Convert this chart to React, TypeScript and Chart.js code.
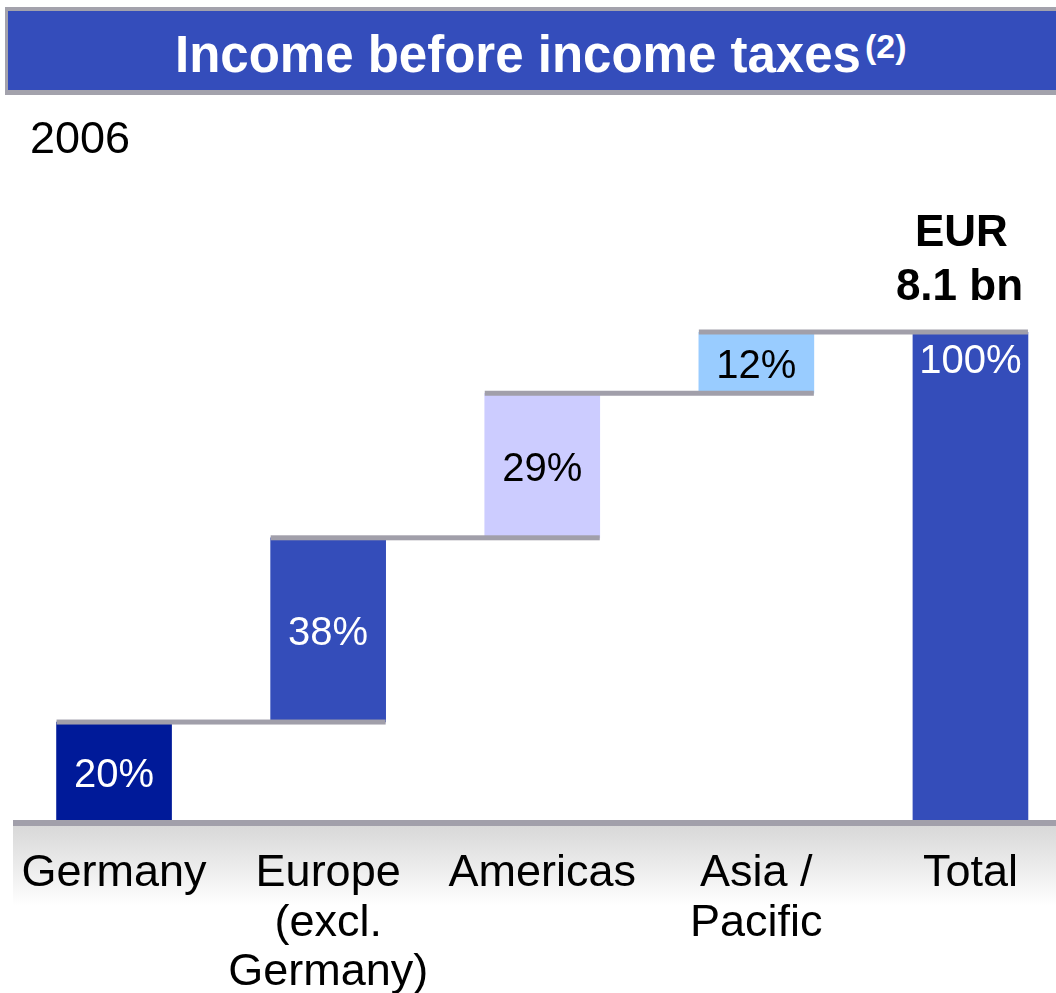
import React, { useEffect, useRef } from "react";
import { Chart, registerables } from "chart.js";

Chart.register(...registerables);

const categories: string[][] = [
  ["Germany"],
  ["Europe", "(excl.", "Germany)"],
  ["Americas"],
  ["Asia /", "Pacific"],
  ["Total"],
];
const barStart: number[] = [0, 20.4, 58, 87.5, 0];
const barEnd: number[] = [20.4, 58, 87.5, 100, 100];
const barLabels: string[] = ["20%", "38%", "29%", "12%", "100%"];
const barColors: string[] = ["#001A99", "#344DBA", "#CCCCFF", "#99CCFF", "#344DBA"];
const labelColors: string[] = ["#FFFFFF", "#FFFFFF", "#000000", "#000000", "#FFFFFF"];
const totalLabel: string[] = ["EUR", "8.1 bn"];

const FONT = "'Liberation Sans', Arial, sans-serif";
const GRAY = "#A19FAA";

const decorPlugin = {
  id: "decor",
  beforeDraw(chart: any) {
    const { ctx, chartArea } = chart;
    ctx.save();
    const top = chartArea.bottom + 4;
    const g = ctx.createLinearGradient(0, top, 0, top + 80);
    g.addColorStop(0, "#D8D8D8");
    g.addColorStop(1, "#FFFFFF");
    ctx.fillStyle = g;
    ctx.fillRect(13, top, chart.width, 80);
    ctx.restore();
  },
  afterDatasetsDraw(chart: any) {
    const { ctx, chartArea } = chart;
    const meta = chart.getDatasetMeta(0);
    const yScale = chart.scales.y;
    ctx.save();
    // baseline
    ctx.fillStyle = GRAY;
    ctx.fillRect(13, chartArea.bottom - 2, chart.width, 6);
    // connectors
    for (let i = 0; i < meta.data.length - 1; i++) {
      const a = meta.data[i];
      const b = meta.data[i + 1];
      const y = yScale.getPixelForValue(barEnd[i]);
      const x0 = a.x - a.width / 2;
      const x1 = b.x + b.width / 2;
      ctx.fillRect(x0, y - 2.5, x1 - x0, 5);
    }
    // labels
    ctx.font = `40px ${FONT}`;
    ctx.textAlign = "center";
    ctx.textBaseline = "middle";
    for (let i = 0; i < meta.data.length; i++) {
      const el = meta.data[i];
      ctx.fillStyle = labelColors[i];
      let y = (el.y + el.base) / 2 + 3;
      if (i === meta.data.length - 1) y = el.y + 29;
      ctx.fillText(barLabels[i], el.x, y + 1);
    }
    // total label
    const last = meta.data[meta.data.length - 1];
    ctx.font = `bold 44px ${FONT}`;
    ctx.fillStyle = "#000000";
    ctx.fillText(totalLabel[0], last.x - 9, last.y - 98);
    ctx.fillText(totalLabel[1], last.x - 11, last.y - 44);
    ctx.restore();
  },
};

export default function App() {
  const ref = useRef<HTMLCanvasElement>(null);
  useEffect(() => {
    if (!ref.current) return;
    const chart = new Chart(ref.current, {
      type: "bar",
      data: {
        labels: categories,
        datasets: [
          {
            data: barStart.map((s, i) => [s, barEnd[i]]) as any,
            backgroundColor: barColors,
            borderWidth: 0,
            barThickness: 115,
          },
        ],
      },
      options: {
        animation: false,
        responsive: false,
        devicePixelRatio: 1,
        layout: { padding: { left: 7, right: 2.5, top: 332, bottom: 0 } },
        plugins: { legend: { display: false }, tooltip: { enabled: false } },
        scales: {
          x: {
            grid: { display: false },
            border: { display: false },
            ticks: {
              color: "#000000",
              font: { family: FONT, size: 45, lineHeight: 1.1 },
              padding: 19,
              maxRotation: 0,
              autoSkip: false,
            },
            afterFit: (scale: any) => {
              scale.height = 171;
            },
          },
          y: { display: false, min: 0, max: 100 },
        },
      },
      plugins: [decorPlugin],
    });
    return () => chart.destroy();
  }, []);

  return (
    <div style={{ position: "absolute", left: 0, top: 0, width: 1056, height: 993, overflow: "hidden", background: "#FFFFFF" }}>
      <canvas ref={ref} width={1080} height={993} style={{ position: "absolute", left: 0, top: 0, width: 1080, height: 993 }} />
      <div style={{ position: "absolute", left: 5, top: 7, width: 1100, height: 88, background: "#A3A2AC" }} />
      <div style={{ position: "absolute", left: 8, top: 11, width: 1100, height: 79, background: "#344DBB" }} />
      <div
        style={{
          position: "absolute",
          left: 175,
          top: 28.8,
          fontFamily: FONT,
          fontWeight: "bold",
          fontSize: 51,
          lineHeight: "51px",
          color: "#FFFFFF",
          whiteSpace: "nowrap",
        }}
      >
        Income before income taxes
      </div>
      <div
        style={{
          position: "absolute",
          left: 865,
          top: 29,
          fontFamily: FONT,
          fontWeight: "bold",
          fontSize: 34,
          lineHeight: "34px",
          color: "#FFFFFF",
          whiteSpace: "nowrap",
        }}
      >
        (2)
      </div>
      <div
        style={{
          position: "absolute",
          left: 30,
          top: 115,
          fontFamily: FONT,
          fontSize: 45,
          lineHeight: "45px",
          color: "#000000",
        }}
      >
        2006
      </div>
    </div>
  );
}
